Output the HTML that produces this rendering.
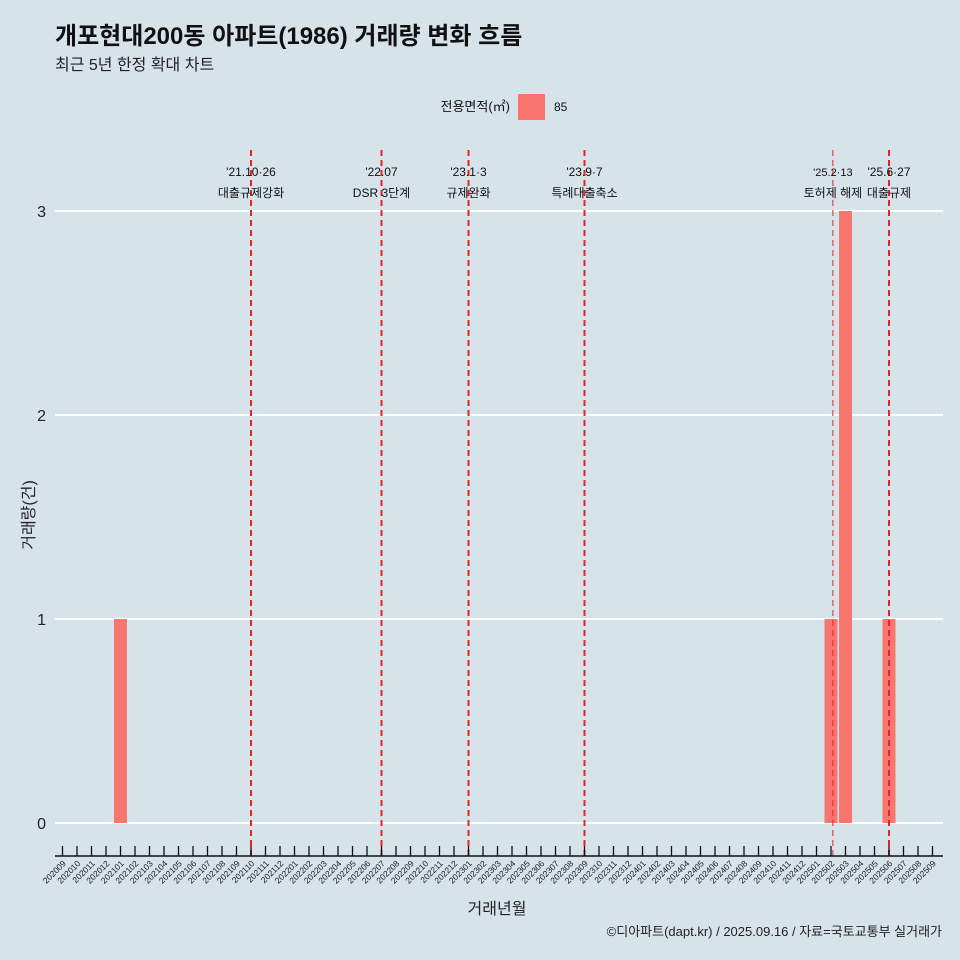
<!DOCTYPE html>
<html><head><meta charset="utf-8"><style>
body{margin:0;background:#d6e3e9;}
svg{display:block;font-family:"Liberation Sans","Noto Sans CJK KR",sans-serif;}
</style></head><body>
<svg id="c" width="960" height="960" viewBox="0 0 960 960">
<rect width="960" height="960" fill="#d6e3e9"/>
<text x="55" y="44" font-size="24" font-weight="bold" fill="#111">개포현대200동 아파트(1986) 거래량 변화 흐름</text>
<text x="55" y="70" font-size="16" fill="#222">최근 5년 한정 확대 차트</text>
<g>
<text x="510" y="111" font-size="13" text-anchor="end" fill="#111">전용면적(㎡)</text>
<rect x="518" y="94" width="27" height="26" fill="#f8766d"/>
<text x="554" y="111" font-size="12" fill="#111">85</text>
</g>
<g id="grid"></g><g id="bars"></g><g id="events"></g><g id="axes"></g>
<text x="497" y="914" font-size="16" text-anchor="middle" fill="#222">거래년월</text>
<text transform="translate(34,515) rotate(-90)" font-size="16" text-anchor="middle" fill="#222">거래량(건)</text>
<text x="942" y="936" font-size="13" text-anchor="end" fill="#222">©디아파트(dapt.kr) / 2025.09.16 / 자료=국토교통부 실거래가</text>
</svg>
<script>
const months=[];for(let y=2020,m=9;y<2025||(y===2025&&m<=9);){months.push(y+String(m).padStart(2,'0'));m++;if(m>12){m=1;y++;}}
const barMonths=['202101','202502','202503','202506'];
const barValues=[1,1,3,1];
const yTicks=[0,1,2,3];
const eventMonths=['202110','202207','202301','202309','202502','202506'];
const eventOffsets=[0,0,0,0,0.13,0];
const eventDates=["'21.10·26","'22.07","'23.1·3","'23.9·7","'25.2·13","'25.6·27"];
const eventLabels=['대출규제강화','DSR 3단계','규제완화','특례대출축소','토허제 해제','대출규제'];
const NS='http://www.w3.org/2000/svg';
const x0=62.5,step=14.5;
const xs=i=>x0+i*step;
const ys=v=>823-v*204;
function el(t,a,p){const e=document.createElementNS(NS,t);for(const k in a)e.setAttribute(k,a[k]);p.appendChild(e);return e;}
const grid=document.getElementById('grid'),bars=document.getElementById('bars'),ev=document.getElementById('events'),ax=document.getElementById('axes');
yTicks.forEach(v=>{
 const l=el('line',{x1:55,x2:943,y1:ys(v),y2:ys(v),stroke:'#fff','stroke-width':2},grid);
 
 
 const t=el('text',{x:46,y:ys(v)+6,'font-size':16,'text-anchor':'end',fill:'#222'},grid);
 t.textContent=v;
 
 
});
barMonths.forEach((m,k)=>{
 const i=months.indexOf(m);
 const r=el('rect',{x:xs(i)-6.5,width:13,y:ys(barValues[k]),height:ys(0)-ys(barValues[k]),fill:'#f8766d'},bars);
 
 
});
eventMonths.forEach((m,k)=>{
 const x=xs(months.indexOf(m)+eventOffsets[k]);
 const thin=eventOffsets[k]>0;
 const l=el('line',{x1:x,x2:x,y1:150,y2:856,stroke:'#e8202a','stroke-width':thin?1:2,'stroke-dasharray':'6,4'},ev);
 
 
 const t1=el('text',{x:x,y:176,'font-size':thin?11:12,'text-anchor':'middle',fill:'#111'},ev);
 t1.textContent=eventDates[k];
 
 
 const t2=el('text',{x:x,y:197,'font-size':12,'text-anchor':'middle',fill:'#111'},ev);
 t2.textContent=eventLabels[k];
 
 
});
const al=el('line',{x1:55,x2:943,y1:856,y2:856,stroke:'#111','stroke-width':1.5},ax);


months.forEach((m,i)=>{
 const x=xs(i);
 const tk=el('line',{x1:x,x2:x,y1:846,y2:856,stroke:'#111','stroke-width':1.3},ax);
 
 
 const t=el('text',{transform:`translate(${x+4},${864}) rotate(-45)`,'font-size':8.5,'text-anchor':'end',fill:'#222'},ax);
 t.textContent=m;
 
 
});
</script>
</body></html>
